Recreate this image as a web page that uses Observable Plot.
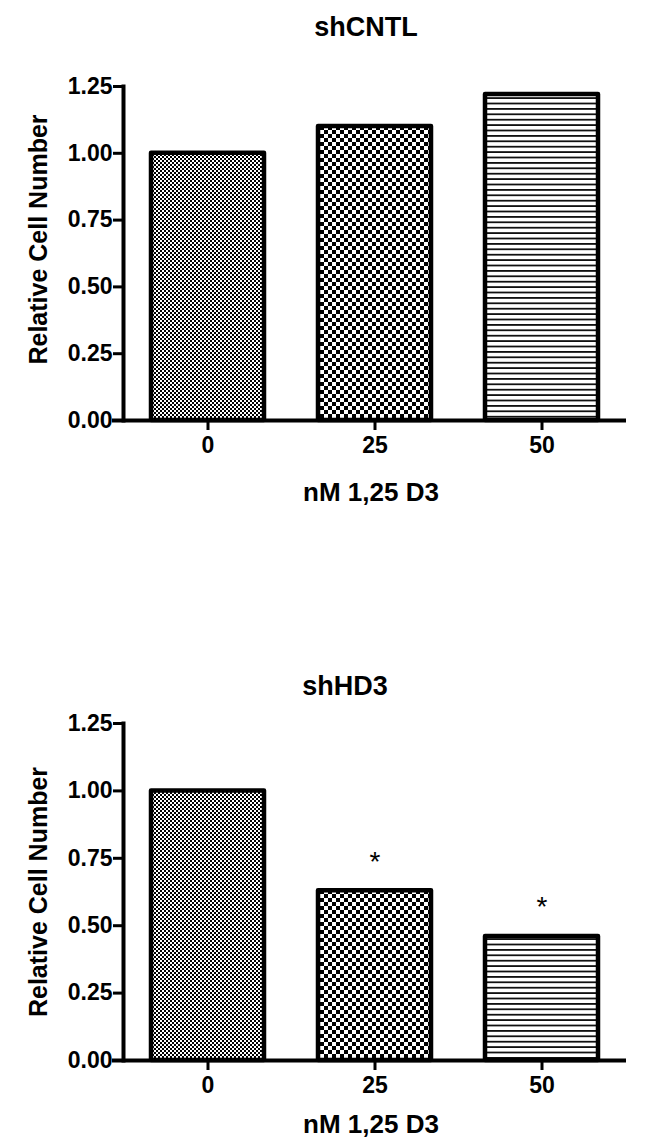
<!DOCTYPE html>
<html>
<head>
<meta charset="utf-8">
<script src="https://cdn.jsdelivr.net/npm/d3@7"></script>
<script src="https://cdn.jsdelivr.net/npm/@observablehq/plot@0.6"></script>
<style>
  html, body { margin: 0; padding: 0; background: #fff; }
  body { width: 648px; height: 1147px; overflow: hidden; font-family: "Liberation Sans", Arial, sans-serif; }
  .title { font-weight: bold; font-size: 27px; text-align: center; width: 648px; box-sizing: border-box; color: #000; }
  #defs { position: absolute; width: 0; height: 0; }
</style>
</head>
<body>
<svg id="defs" width="0" height="0">
  <defs>
    <pattern id="pFine" patternUnits="userSpaceOnUse" width="4" height="4">
      <rect width="4" height="4" fill="#fff"/>
      <rect x="0" y="0" width="2" height="2" fill="#000"/>
      <rect x="2" y="2" width="2" height="2" fill="#000"/>
    </pattern>
    <pattern id="pCoarse" patternUnits="userSpaceOnUse" width="8" height="8">
      <rect width="8" height="8" fill="#fff"/>
      <rect x="0" y="0" width="4" height="4" fill="#000"/>
      <rect x="4" y="4" width="4" height="4" fill="#000"/>
    </pattern>
    <pattern id="pLines" patternUnits="userSpaceOnUse" width="8" height="5.4">
      <rect width="8" height="5.4" fill="#fff"/>
      <rect x="0" y="0" width="8" height="1.8" fill="#111"/>
    </pattern>
  </defs>
</svg>
<div id="t1" class="title" style="height:54px;line-height:54px;padding-left:84px;">shCNTL</div>
<div id="c1"></div>
<div id="t2" class="title" style="margin-top:142px;height:40px;line-height:40px;padding-left:42px;">shHD3</div>
<div id="c2"></div>
<script>
// ---- data ----
const doses = ["0", "25", "50"];
const shCNTLValues = [1.00, 1.10, 1.22];
const shHD3Values = [1.00, 0.63, 0.46];
const shHD3Marks = ["", "*", "*"];
const patterns = ["url(#pFine)", "url(#pCoarse)", "url(#pLines)"];
const yTicks = [0, 0.25, 0.5, 0.75, 1.0, 1.25];
const xTitle = "nM 1,25 D3";
const yTitle = "Relative Cell Number";

const FONT = "'Liberation Sans', Arial, sans-serif";

function chart({values, marks, height, marginTop, marginBottom, yTitleDy, xTitleDy}) {
  const data = doses.map((d, i) => ({dose: d, value: values[i], fill: patterns[i], mark: marks ? marks[i] : ""}));
  return Plot.plot({
    width: 648,
    height,
    marginLeft: 123,
    marginRight: 22,
    marginTop,
    marginBottom,
    style: {fontFamily: FONT, color: "#000", background: "#fff", overflow: "visible"},
    x: {domain: doses, paddingInner: 0.325, paddingOuter: 0.167, label: null},
    y: {domain: [0, 1.25], label: null},
    marks: [
      Plot.barY(data, {x: "dose", y: "value", fill: "fill", stroke: "#000", strokeWidth: 4.5, strokeLinejoin: "round"}),
      Plot.frame({anchor: "left", strokeWidth: 4, stroke: "#000"}),
      Plot.ruleY([0], {strokeWidth: 4, stroke: "#000", insetLeft: -11}),
      Plot.axisY({ticks: yTicks, tickFormat: d3.format(".2f"), tickSize: 10, tickPadding: 1, strokeWidth: 3, fontSize: 23, fontWeight: "bold", label: null}),
      Plot.axisX({tickSize: 10, tickPadding: 6, strokeWidth: 3, fontSize: 23, fontWeight: "bold", label: null}),
      Plot.text([xTitle], {frameAnchor: "bottom", dy: xTitleDy, dx: -4, textAnchor: "middle", lineAnchor: "middle", fontSize: 26, fontWeight: "bold"}),
      Plot.text([yTitle], {frameAnchor: "left", rotate: -90, dx: -85, dy: yTitleDy, textAnchor: "middle", lineAnchor: "middle", fontSize: 25, fontWeight: "bold"}),
      Plot.text(data.filter(d => d.mark), {x: "dose", y: "value", text: "mark", dy: -29, lineAnchor: "middle", fontSize: 28})
    ]
  });
}

document.getElementById("c1").append(chart({values: shCNTLValues, marks: null, height: 470, marginTop: 32, marginBottom: 104, yTitleDy: -14, xTitleDy: 72}));
document.getElementById("c2").append(chart({values: shHD3Values, marks: shHD3Marks, height: 441, marginTop: 17, marginBottom: 87, yTitleDy: 0, xTitleDy: 64}));
</script>
</body>
</html>
